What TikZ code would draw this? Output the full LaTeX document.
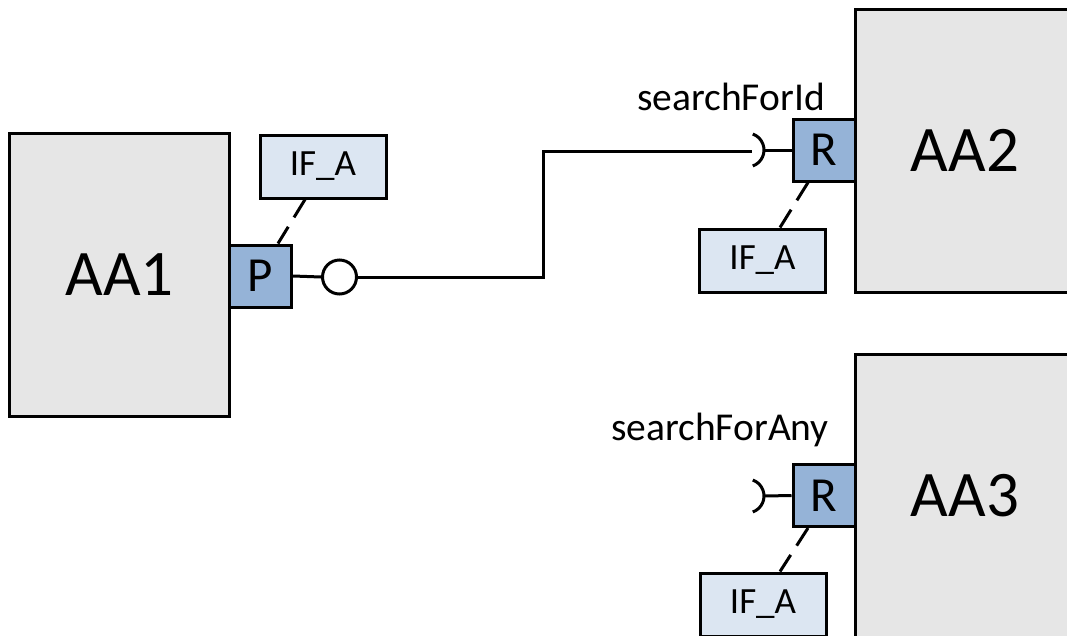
\documentclass[tikz,border=0pt]{standalone}
\usepackage{fontspec}
\setmainfont{Carlito}
\usetikzlibrary{calc}
\definecolor{boxgray}{HTML}{E6E6E6}
\definecolor{portblue}{HTML}{95B3D7}
\definecolor{iflight}{HTML}{DCE6F2}
\tikzset{
  comp/.style={draw, line width=3pt, fill=boxgray, minimum width=220pt, minimum height=283pt, inner sep=0pt, font=\fontsize{65}{78}\selectfont},
  port/.style={draw, line width=3pt, fill=portblue, minimum width=62pt, minimum height=62pt, inner sep=0pt, font=\fontsize{49}{58}\selectfont},
  iface/.style={draw, line width=3pt, fill=iflight, minimum width=126pt, minimum height=63pt, inner sep=0pt, font=\fontsize{37}{44}\selectfont},
  lbl/.style={inner sep=0pt, font=\fontsize{39.5}{47}\selectfont},
  conn/.style={line width=3pt},
  dashconn/.style={line width=3pt, dash pattern=on 21pt off 11pt},
  lolli/.style={circle, draw, line width=3pt, fill=white, minimum size=34pt, inner sep=0pt},
}
\begin{document}
\begin{tikzpicture}[x=1pt,y=-1pt]
\useasboundingbox (0,0) rectangle (1067,635);
\clip (0,0) rectangle (1067,635);
% components
\node[comp] (AA1) at (119.5,275) {AA1};
\node[comp] (AA2) at (965,150.5) {AA2};
\node[comp] (AA3) at (965,495.5) {AA3};
% ports
\node[port] (P) at (260.5,276) {P};
\node[port] (R2) at (824,150) {R};
\node[port] (R3) at (824,495.5) {R};
% interfaces
\node[iface] (IF1) at (323,166.5) {IF\_A};
\node[iface] (IF2) at (762.5,260.5) {IF\_A};
\node[iface] (IF3) at (763,604.5) {IF\_A};
% labels
\node[lbl] (L2) at (731,97) {searchForId};
\node[lbl] (L3) at (720,430) {searchForAny};
% dashed links
\draw[dashconn] ([xshift=-18pt]IF1.south) -- ([xshift=17.5pt]P.north);
\draw[dashconn] ([xshift=-16pt]R2.south) -- ([xshift=17.5pt]IF2.north);
\draw[dashconn] ([xshift=-16pt]R3.south) -- ([xshift=17pt]IF3.north);
% lollipop
\node[lolli] (lp) at (339.5,277) {};
\draw[conn] (P.east) -- (lp.west);
% sockets
\coordinate (sc2) at (747,150);
\coordinate (sc3) at (747,496);
\coordinate (sin2) at (752,151);
\coordinate (bend) at (543,277);
\draw[conn] (lp.east) -- (bend) |- (sin2);
\foreach \s/\r in {sc2/R2, sc3/R3}{
  \draw[conn] ([shift={(70:17)}]\s) arc[start angle=70, end angle=-70, radius=17];
  \draw[conn] ([xshift=17pt]\s) -- (\r.west);
}
\end{tikzpicture}
\end{document}
